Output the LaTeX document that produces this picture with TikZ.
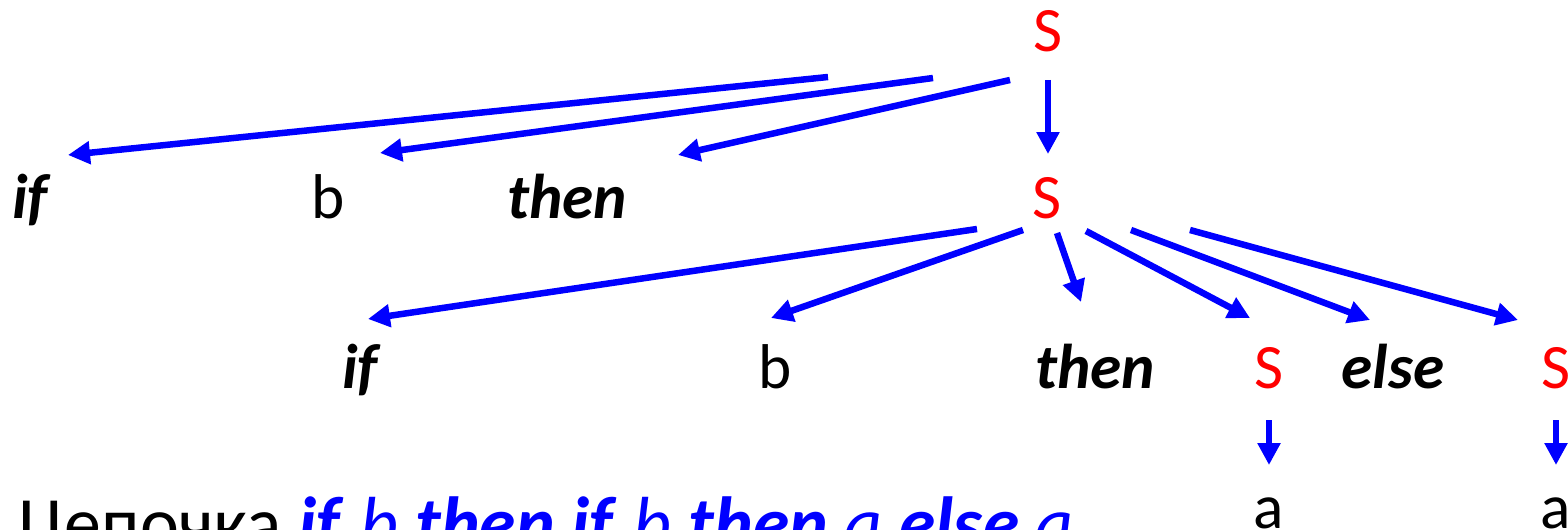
\documentclass[tikz,border=0pt]{standalone}
\usepackage{fontspec}
\setmainfont{Carlito}
\usepackage{tikz}
\usetikzlibrary{arrows.meta}

\tikzset{
  sym/.style={anchor=base, inner sep=0pt, font=\fontsize{36}{40}\selectfont},
  nt/.style={sym, text=red},
  kw/.style={sym, font=\fontsize{36}{40}\selectfont\bfseries\itshape},
  rule/.style={->, draw=blue, line width=3.7pt},
}

\begin{document}
\begin{tikzpicture}[>={Triangle[length=0.44cm,width=0.44cm]}, x=0.02cm, y=-0.02cm]
  \useasboundingbox (0,0) rectangle (1568,530);
  \clip (0,0) rectangle (1568,530);
  % top level
  \node[nt] (S0) at (1048,52) {S};
  \node[kw] (if1) at (30,218) {if};
  \node[sym] (b1) at (328,218) {b};
  \node[kw] (then1) at (567,218) {then};
  \node[nt] (S1) at (1047,218) {S};
  % inner if
  \node[kw] (if2) at (360,388) {if};
  \node[sym] (b2) at (775,388) {b};
  \node[kw] (then2) at (1095,388) {then};
  \node[nt] (S2) at (1269,388) {S};
  \node[kw] (else2) at (1393,388) {else};
  \node[nt] (S3) at (1556,388) {S};
  \node[sym] (a2) at (1269,528) {a};
  \node[sym] (a3) at (1556,528) {a};
  % arrow ends
  \foreach \nm/\x/\y in {p1/828/77, q1/68/155, p2/933/78, q2/380/153,
      p3/1010/80, q3/678/155, p4/1048/80, q4/1048/154,
      p5/977/229, q5/368/319, p6/1023/230, q6/771/318,
      p7/1057/233, q7/1081/302, p8/1086/231, q8/1250/318,
      p9/1131/230, q9/1370/320, p10/1190/230, q10/1518/320,
      p11/1269/420, q11/1269/465, p12/1556/420, q12/1556/465}
    \coordinate (\nm) at (\x,\y);
  \foreach \i in {1,...,12} {
    \draw[rule] (p\i) -- (q\i);
  }
  % the string
  \node[anchor=base west, inner sep=0pt, font=\fontsize{42}{46}\selectfont] (str) at (18,548)
    {Цепочка \textcolor{blue}{\textbf{\textit{if}} \textit{b} \textbf{\textit{then}} \textbf{\textit{if}} \textit{b} \textbf{\textit{then}} \textit{a} \textbf{\textit{else}} \textit{a}}};
\end{tikzpicture}
\end{document}
